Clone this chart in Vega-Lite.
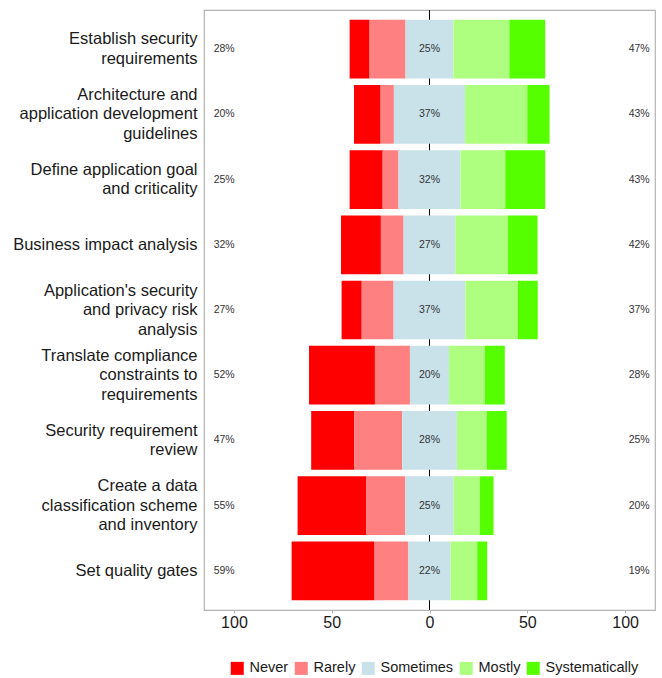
{
  "$schema": "https://vega.github.io/schema/vega-lite/v6.json",
  "width": 451,
  "height": 600,
  "autosize": {"type": "none"},
  "padding": {"left": 204, "top": 10, "right": 7, "bottom": 68},
  "config": {
    "font": "Liberation Sans",
    "view": {"stroke": "#b3b3b3", "strokeWidth": 1.2},
    "axis": {"labelFont": "Liberation Sans", "labelColor": "#1a1a1a"}
  },
  "datasets": {
    "resp": [
      {"item": "Establish security|requirements", "response": "Never", "pct": 10.2},
      {"item": "Establish security|requirements", "response": "Rarely", "pct": 18.4},
      {"item": "Establish security|requirements", "response": "Sometimes", "pct": 24.5},
      {"item": "Establish security|requirements", "response": "Mostly", "pct": 28.6},
      {"item": "Establish security|requirements", "response": "Systematically", "pct": 18.3},
      {"item": "Architecture and|application development|guidelines", "response": "Never", "pct": 13.6},
      {"item": "Architecture and|application development|guidelines", "response": "Rarely", "pct": 6.8},
      {"item": "Architecture and|application development|guidelines", "response": "Sometimes", "pct": 36.4},
      {"item": "Architecture and|application development|guidelines", "response": "Mostly", "pct": 31.8},
      {"item": "Architecture and|application development|guidelines", "response": "Systematically", "pct": 11.4},
      {"item": "Define application goal|and criticality", "response": "Never", "pct": 16.9},
      {"item": "Define application goal|and criticality", "response": "Rarely", "pct": 8.1},
      {"item": "Define application goal|and criticality", "response": "Sometimes", "pct": 31.7},
      {"item": "Define application goal|and criticality", "response": "Mostly", "pct": 22.9},
      {"item": "Define application goal|and criticality", "response": "Systematically", "pct": 20.4},
      {"item": "Business impact analysis", "response": "Never", "pct": 20.4},
      {"item": "Business impact analysis", "response": "Rarely", "pct": 11.6},
      {"item": "Business impact analysis", "response": "Sometimes", "pct": 26.5},
      {"item": "Business impact analysis", "response": "Mostly", "pct": 26.9},
      {"item": "Business impact analysis", "response": "Systematically", "pct": 15.1},
      {"item": "Application's security|and privacy risk|analysis", "response": "Never", "pct": 10.3},
      {"item": "Application's security|and privacy risk|analysis", "response": "Rarely", "pct": 16.3},
      {"item": "Application's security|and privacy risk|analysis", "response": "Sometimes", "pct": 36.7},
      {"item": "Application's security|and privacy risk|analysis", "response": "Mostly", "pct": 26.8},
      {"item": "Application's security|and privacy risk|analysis", "response": "Systematically", "pct": 10.2},
      {"item": "Translate compliance|constraints to|requirements", "response": "Never", "pct": 33.7},
      {"item": "Translate compliance|constraints to|requirements", "response": "Rarely", "pct": 17.9},
      {"item": "Translate compliance|constraints to|requirements", "response": "Sometimes", "pct": 20.0},
      {"item": "Translate compliance|constraints to|requirements", "response": "Mostly", "pct": 18.3},
      {"item": "Translate compliance|constraints to|requirements", "response": "Systematically", "pct": 10.2},
      {"item": "Security requirement|review", "response": "Never", "pct": 22.0},
      {"item": "Security requirement|review", "response": "Rarely", "pct": 24.5},
      {"item": "Security requirement|review", "response": "Sometimes", "pct": 28.0},
      {"item": "Security requirement|review", "response": "Mostly", "pct": 15.3},
      {"item": "Security requirement|review", "response": "Systematically", "pct": 10.2},
      {"item": "Create a data|classification scheme|and inventory", "response": "Never", "pct": 35.2},
      {"item": "Create a data|classification scheme|and inventory", "response": "Rarely", "pct": 19.9},
      {"item": "Create a data|classification scheme|and inventory", "response": "Sometimes", "pct": 24.7},
      {"item": "Create a data|classification scheme|and inventory", "response": "Mostly", "pct": 13.3},
      {"item": "Create a data|classification scheme|and inventory", "response": "Systematically", "pct": 7.1},
      {"item": "Set quality gates", "response": "Never", "pct": 42.4},
      {"item": "Set quality gates", "response": "Rarely", "pct": 17.3},
      {"item": "Set quality gates", "response": "Sometimes", "pct": 21.6},
      {"item": "Set quality gates", "response": "Mostly", "pct": 13.6},
      {"item": "Set quality gates", "response": "Systematically", "pct": 5.1}
    ],
    "labels": [
      {"item": "Establish security|requirements", "low": "28%", "neutral": "25%", "high": "47%"},
      {"item": "Architecture and|application development|guidelines", "low": "20%", "neutral": "37%", "high": "43%"},
      {"item": "Define application goal|and criticality", "low": "25%", "neutral": "32%", "high": "43%"},
      {"item": "Business impact analysis", "low": "32%", "neutral": "27%", "high": "42%"},
      {"item": "Application's security|and privacy risk|analysis", "low": "27%", "neutral": "37%", "high": "37%"},
      {"item": "Translate compliance|constraints to|requirements", "low": "52%", "neutral": "20%", "high": "28%"},
      {"item": "Security requirement|review", "low": "47%", "neutral": "28%", "high": "25%"},
      {"item": "Create a data|classification scheme|and inventory", "low": "55%", "neutral": "25%", "high": "20%"},
      {"item": "Set quality gates", "low": "59%", "neutral": "22%", "high": "19%"}
    ]
  },
  "encoding": {
    "y": {
      "field": "item",
      "type": "nominal",
      "sort": null,
      "scale": {"paddingInner": 0.1, "paddingOuter": 0.15},
      "axis": {
        "title": null,
        "labelExpr": "split(datum.label, '|')",
        "labelFontSize": 16.5,
        "labelLimit": 0,
        "labelLineHeight": 19.5,
        "labelOffset": {
          "condition": [
            {"test": "length(split(datum.value, '|')) == 3", "value": -19.5},
            {"test": "length(split(datum.value, '|')) == 2", "value": -9.75}
          ],
          "value": 0
        },
        "ticks": false,
        "domain": false,
        "labelPadding": 7,
        "labelColor": "#1a1a1a"
      }
    }
  },
  "layer": [
    {
      "data": {"values": [{}]},
      "mark": {"type": "rule", "color": "black", "strokeWidth": 1},
      "encoding": {"x": {"datum": 0, "type": "quantitative"}, "y": null}
    },
    {
      "data": {"name": "resp"},
      "transform": [
        {"calculate": "indexof(['Never','Rarely','Sometimes','Mostly','Systematically'], datum.response)", "as": "rank"},
        {"calculate": "datum.rank < 2 ? datum.pct : (datum.rank == 2 ? datum.pct / 2 : 0)", "as": "lowpart"},
        {"joinaggregate": [{"op": "sum", "field": "lowpart", "as": "offset"}], "groupby": ["item"]},
        {"stack": "pct", "groupby": ["item"], "sort": [{"field": "rank", "order": "ascending"}], "as": ["s0", "s1"]},
        {"calculate": "datum.s0 - datum.offset", "as": "x0"},
        {"calculate": "datum.s1 - datum.offset", "as": "x1"}
      ],
      "mark": {"type": "bar"},
      "encoding": {
        "x": {
          "field": "x0",
          "type": "quantitative",
          "scale": {"domain": [-115.3, 115.3], "nice": false, "zero": false},
          "axis": {
            "title": null,
            "values": [-100, -50, 0, 50, 100],
            "labelExpr": "abs(datum.value)",
            "grid": false,
            "domain": false,
            "tickSize": 3,
            "tickColor": "#b3b3b3",
            "labelPadding": 1,
            "labelFontSize": 16,
            "labelColor": "#1a1a1a"
          }
        },
        "x2": {"field": "x1"},
        "color": {
          "field": "response",
          "type": "nominal",
          "scale": {
            "domain": ["Never", "Rarely", "Sometimes", "Mostly", "Systematically"],
            "range": ["#FF0000", "#FF8080", "#C9E2EA", "#AEFF80", "#55FF00"]
          },
          "legend": {
            "title": null,
            "orient": "none",
            "direction": "horizontal",
            "legendX": 26,
            "legendY": 651,
            "symbolType": "square",
            "symbolSize": 169,
            "symbolStrokeWidth": 0,
            "symbolOpacity": 1,
            "labelFontSize": 14.5,
            "labelColor": "#1a1a1a",
            "labelOffset": 5,
            "columnPadding": 5
          }
        }
      }
    },
    {
      "data": {"name": "labels"},
      "mark": {"type": "text", "fontSize": 10.5, "color": "#333333"},
      "encoding": {"x": {"datum": -105, "type": "quantitative"}, "text": {"field": "low"}}
    },
    {
      "data": {"name": "labels"},
      "mark": {"type": "text", "fontSize": 10.5, "color": "#333333"},
      "encoding": {"x": {"datum": 0, "type": "quantitative"}, "text": {"field": "neutral"}}
    },
    {
      "data": {"name": "labels"},
      "mark": {"type": "text", "fontSize": 10.5, "color": "#333333"},
      "encoding": {"x": {"datum": 107.2, "type": "quantitative"}, "text": {"field": "high"}}
    }
  ]
}
